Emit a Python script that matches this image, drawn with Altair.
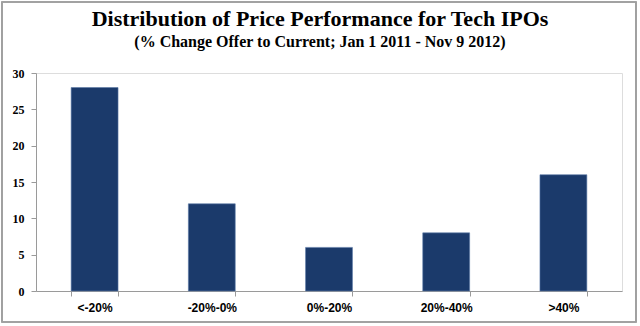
import altair as alt
import pandas as pd

categories = ["<-20%", "-20%-0%", "0%-20%", "20%-40%", ">40%"]
counts = [28, 12, 6, 8, 16]

df = pd.DataFrame({"cat": categories, "n": counts})

bars = alt.Chart(df).mark_bar(color="#1b3a6b", stroke="#5a78a6", strokeWidth=0.6).encode(
    x=alt.X("cat:N", sort=categories, title=None,
            scale=alt.Scale(paddingInner=0.6, paddingOuter=0.3),
            axis=alt.Axis(labelAngle=0, tickBand="extent", domainColor="#9a9a9a",
                          tickColor="#9a9a9a", tickSize=5, labelPadding=6,
                          labelFont="Liberation Sans", labelFontWeight="bold",
                          labelFontSize=12, labelColor="black", grid=False)),
    y=alt.Y("n:Q", title=None,
            scale=alt.Scale(domain=[0, 30]),
            axis=alt.Axis(values=[0, 5, 10, 15, 20, 25, 30], grid=False,
                          domainColor="#9a9a9a", tickColor="#9a9a9a", tickSize=5,
                          labelPadding=7, labelFont="Liberation Serif",
                          labelFontWeight="bold", labelFontSize=12, labelColor="black")),
)

border = alt.Chart(df).mark_rect(fill=None, stroke="#a0a0a0", strokeWidth=1.2).encode(
    x=alt.value(-34), x2=alt.value(600), y=alt.value(-71), y2=alt.value(249)
)

chart = alt.layer(border, bars).properties(
    width=586, height=218,
    title=alt.TitleParams(
        text="Distribution of Price Performance for Tech IPOs",
        subtitle="(% Change Offer to Current; Jan 1 2011 - Nov 9 2012)",
        anchor="middle", dx=-9, offset=-50,
    ),
    autosize=alt.AutoSizeParams(type="none"),
    padding={"left": 36, "top": 73, "right": 18, "bottom": 35},
).configure_view(stroke=None).configure(background="white").configure_title(
    font="Liberation Serif", fontSize=22, fontWeight="bold", color="black",
    subtitleFont="Liberation Serif", subtitleFontSize=16, subtitleFontWeight="bold",
    subtitleColor="black", subtitlePadding=0,
)

chart.save("out.html", embed_options={"renderer": "svg", "actions": False})
